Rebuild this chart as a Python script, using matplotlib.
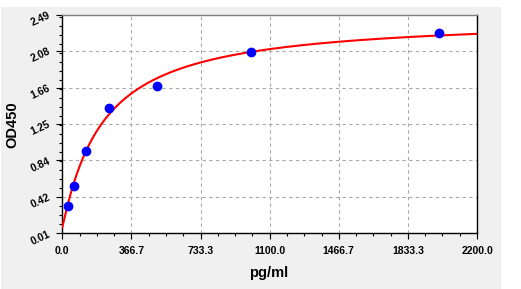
import numpy as np
import matplotlib
matplotlib.use("Agg")
import matplotlib.pyplot as plt
from matplotlib.patches import Rectangle
from matplotlib.ticker import AutoMinorLocator

# Data (standards)
conc = [31.25, 62.5, 125, 250, 500, 1000, 2000]
od = [0.32, 0.55, 0.94, 1.43, 1.68, 2.065, 2.285]

# Fitted 4PL curve parameters
fit_a = 0.078
fit_b = 1.05
fit_c = 215.0
fit_d = 2.467

x_ticks = [0.0, 366.7, 733.3, 1100.0, 1466.7, 1833.3, 2200.0]
x_tick_labels = ["0.0", "366.7", "733.3", "1100.0", "1466.7", "1833.3", "2200.0"]
y_ticks = [0.01, 0.42, 0.84, 1.25, 1.66, 2.08, 2.49]
y_tick_labels = ["0.01", "0.42", "0.84", "1.25", "1.66", "2.08", "2.49"]

W, H = 521, 289
fig = plt.figure(figsize=(W / 100, H / 100), dpi=100, facecolor="white")
bg = Rectangle((1 / W, 0), 500 / W, (H - 7) / H, transform=fig.transFigure,
               facecolor="#f0f0f0", edgecolor="none", zorder=-10)
fig.add_artist(bg)

ax = fig.add_axes([62.3 / W, 1 - 233.3 / H, (477 - 62.3) / W, (233.3 - 15) / H])
ax.set_zorder(1)
ax.set_facecolor("white")

xs = np.linspace(0, 2200, 400)
ys = fit_d + (fit_a - fit_d) / (1 + (xs / fit_c) ** fit_b)
ax.plot(xs, ys, color="#ff0000", lw=1.5, zorder=3)
ax.plot(conc, od, "o", color="#0000ff", ms=6, zorder=4)

ax.set_xlim(0, 2200)
ax.set_ylim(0.01, 2.49)
ax.set_xticks(x_ticks)
ax.set_xticklabels(x_tick_labels, fontsize=7.5, fontweight="bold", family="Liberation Sans")
ax.set_yticks(y_ticks)
ax.set_yticklabels(y_tick_labels, fontsize=7.5, fontweight="bold", family="Liberation Sans",
                   rotation=25, rotation_mode="anchor", ha="right", va="center")
ax.xaxis.set_minor_locator(AutoMinorLocator(4))
ax.yaxis.set_minor_locator(AutoMinorLocator(4))
ax.tick_params(axis="both", which="major", direction="out", length=4, width=0.8, color="black")
ax.tick_params(axis="both", which="minor", direction="out", length=2.5, width=0.8, color="black")
ax.tick_params(axis="x", which="major", pad=5)
ax.tick_params(axis="y", which="major", pad=5)

ax.grid(True, which="major", color="#a8a8a8", linestyle=(0, (3, 3)), lw=0.8)

for s in ["left", "bottom", "right"]:
    ax.spines[s].set_color("black")
    ax.spines[s].set_linewidth(1.0)
ax.spines["top"].set_color("#808080")
ax.spines["top"].set_linewidth(1.0)

fig.text(12 / W, 1 - 125 / H, "OD450", rotation=90, ha="center", va="center",
         fontsize=10.5, fontweight="bold", family="Liberation Sans")
fig.text(269 / W, 1 - 273 / H, "pg/ml", ha="center", va="center",
         fontsize=10.5, fontweight="bold", family="Liberation Sans")

fig.savefig("out.png", dpi=100, facecolor="white")
